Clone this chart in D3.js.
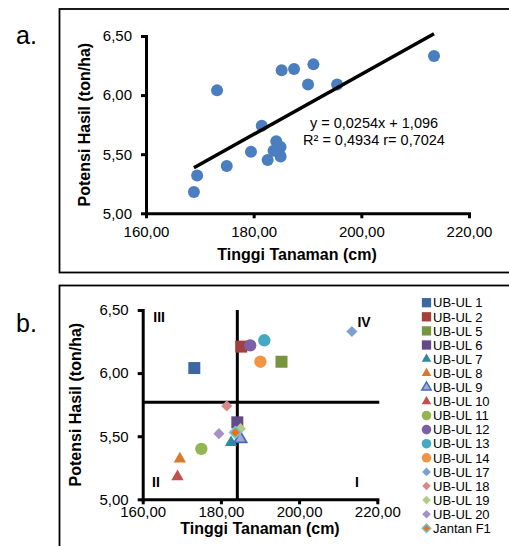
<!DOCTYPE html>
<html>
<head>
<meta charset="utf-8">
<script src="https://cdn.jsdelivr.net/npm/d3@7"></script>
<style>
  body { margin: 0; background: #fff; }
  svg { display: block; font-family: "Liberation Sans", Arial, sans-serif; }
  .axis path, .axis line { stroke: #000; stroke-width: 3; }
  .axis text { font-size: 15px; fill: #000; }
  .title { font-size: 16px; font-weight: bold; }
</style>
</head>
<body>
<div id="chart"></div>
<script>
// genotypes, plant height (cm) and yield potential (ton/ha)
var names = ["UB-UL 1", "UB-UL 2", "UB-UL 5", "UB-UL 6", "UB-UL 7", "UB-UL 8", "UB-UL 9",
  "UB-UL 10", "UB-UL 11", "UB-UL 12", "UB-UL 13", "UB-UL 14", "UB-UL 17", "UB-UL 18",
  "UB-UL 19", "UB-UL 20", "Jantan F1"];
var height = [173.2, 185.2, 195.5, 184.2, 182.6, 169.5, 185.0, 168.9, 175.0, 187.5,
  191.1, 190.1, 213.5, 181.5, 185.0, 179.5, 183.7];
var yieldHa = [6.04, 6.21, 6.09, 5.61, 5.45, 5.32, 5.48, 5.18, 5.40, 6.22,
  6.26, 6.09, 6.33, 5.74, 5.56, 5.52, 5.53];

var xTicks = [160, 180, 200, 220];
var yTicks = [5.00, 5.50, 6.00, 6.50];

// trendline y = 0,0254x + 1,096
var slope = 0.0254, intercept = 1.096;
var eqText = ["y = 0,0254x + 1,096", "R\u00b2 = 0,4934 r= 0,7024"];

// quadrant cut lines (means)
var meanX = 184.2, meanY = 5.77;
var quadLabels = [["III", 164.2, 6.405], ["IV", 216.6, 6.367], ["II", 163.4, 5.10], ["I", 214.8, 5.10]];

// marker style per genotype
var shapes = ["square", "square", "square", "square", "triangle", "triangle", "triangle",
  "triangle", "circle", "circle", "circle", "circle", "diamond", "diamond", "diamond",
  "diamond", "diamond"];
var fills = ["#3B68A1", "#A33F3C", "#77943F", "#634B88", "#2F8AA0", "#D8792D", "#A9A4D2",
  "#C0504D", "#93B653", "#7D5FA3", "#45A9C4", "#F39445", "#7D9FD1", "#D98A88",
  "#B3CD86", "#A690C6", "#E8730F"];
var strokes = [null, null, null, null, null, null, "#3D6FB8", null, null, null, null, null,
  null, null, null, null, "#6FC3E0"];

var locale = d3.formatLocale({decimal: ",", thousands: ".", grouping: [3], currency: ["", ""]});
var fmt = locale.format(".2f");

var svg = d3.select("#chart").append("svg")
  .attr("width", 509)
  .attr("height", 546);

var data = names.map(function(n, i) {
  return {name: n, x: height[i], y: yieldHa[i], shape: shapes[i], fill: fills[i], stroke: strokes[i]};
});

function symbolFor(shape, big) {
  var t = {square: d3.symbolSquare, triangle: d3.symbolTriangle, circle: d3.symbolCircle, diamond: d3.symbolSquare};
  var size = {square: 144, triangle: 66, circle: 120, diamond: 62};
  var k = big ? 1 : 0.6;
  return d3.symbol().type(t[shape]).size(size[shape] * k)();
}

// frames round each panel
svg.append("rect").attr("x", 59.5).attr("y", 9).attr("width", 470).attr("height", 263.5)
  .attr("fill", "none").attr("stroke", "#000").attr("stroke-width", 1.8);
svg.append("rect").attr("x", 59.5).attr("y", 285.5).attr("width", 470).attr("height", 300)
  .attr("fill", "none").attr("stroke", "#000").attr("stroke-width", 1.8);

svg.append("text").attr("x", 16).attr("y", 44).attr("font-size", 25).text("a.");
svg.append("text").attr("x", 16).attr("y", 332).attr("font-size", 25).text("b.");

function axes(g, x, y, h, titleX, titleY, yTitleX, xPad) {
  g.append("g").attr("class", "axis")
    .attr("transform", "translate(0," + h + ")")
    .call(d3.axisBottom(x).tickValues(xTicks).tickFormat(fmt).tickSize(5).tickSizeOuter(0).tickPadding(xPad))
    .call(function(a) { a.select(".domain").attr("stroke-linecap", "square"); });
  g.append("g").attr("class", "axis")
    .call(d3.axisLeft(y).tickValues(yTicks).tickFormat(fmt).tickSize(5).tickSizeOuter(0).tickPadding(9))
    .call(function(a) { a.select(".domain").attr("stroke-linecap", "square"); });
  g.append("text").attr("class", "title")
    .attr("x", titleX).attr("y", titleY)
    .attr("text-anchor", "middle")
    .text("Tinggi Tanaman (cm)");
  g.append("text").attr("class", "title")
    .attr("transform", "translate(" + yTitleX + "," + (h / 2) + ") rotate(-90)")
    .attr("text-anchor", "middle")
    .text("Potensi Hasil (ton/ha)");
}

// ---- panel a: scatter with trendline
var ga = svg.append("g").attr("transform", "translate(146,36)");
var wa = 323, ha = 177.3;
var xa = d3.scaleLinear().domain([160, 220]).range([0, wa]);
var ya = d3.scaleLinear().domain([5, 6.5]).range([ha, 0]);
axes(ga, xa, ya, ha, 151, 224, -56, 8);

ga.selectAll(".dot").data(data).enter().append("circle")
  .attr("cx", function(d) { return xa(d.x); })
  .attr("cy", function(d) { return ya(d.y); })
  .attr("r", 6)
  .attr("fill", "#4A7EBF");

var ext = d3.extent(height);
ga.append("line")
  .attr("x1", xa(ext[0])).attr("y1", ya(slope * ext[0] + intercept))
  .attr("x2", xa(ext[1])).attr("y2", ya(slope * ext[1] + intercept))
  .attr("stroke", "#000").attr("stroke-width", 3.5);

ga.selectAll(".eq").data(eqText).enter().append("text")
  .attr("x", 228).attr("y", function(d, i) { return 92 + i * 16.5; })
  .attr("text-anchor", "middle")
  .attr("font-size", 14.5)
  .text(function(d) { return d; });

// ---- panel b: quadrants by genotype
var gb = svg.append("g").attr("transform", "translate(142.7,310)");
var wb = 234.6, hb = 189.3;
var xb = d3.scaleLinear().domain([160, 220]).range([0, wb]);
var yb = d3.scaleLinear().domain([5, 6.5]).range([hb, 0]);
axes(gb, xb, yb, hb, wb / 2, 224, -62, 2);

gb.append("line").attr("x1", xb(meanX)).attr("x2", xb(meanX)).attr("y1", 0).attr("y2", hb)
  .attr("stroke", "#000").attr("stroke-width", 3);
gb.append("line").attr("x1", 0).attr("x2", wb + 2).attr("y1", yb(meanY)).attr("y2", yb(meanY))
  .attr("stroke", "#000").attr("stroke-width", 3);

gb.selectAll(".q").data(quadLabels).enter().append("text")
  .attr("x", function(d) { return xb(d[1]); })
  .attr("y", function(d) { return yb(d[2]); })
  .attr("text-anchor", "middle")
  .attr("font-size", 14).attr("font-weight", "bold")
  .text(function(d) { return d[0]; });

gb.selectAll(".mk").data(data).enter().append("path")
  .attr("d", function(d) { return symbolFor(d.shape, true); })
  .attr("transform", function(d) {
    return "translate(" + xb(d.x) + "," + yb(d.y) + ")" + (d.shape === "diamond" ? " rotate(45)" : "");
  })
  .attr("fill", function(d) { return d.fill; })
  .attr("stroke", function(d) { return d.stroke || "none"; })
  .attr("stroke-width", 1.8);

// legend
var lg = svg.append("g").attr("transform", "translate(426.5,302.7)");
var row = lg.selectAll(".row").data(data).enter().append("g")
  .attr("transform", function(d, i) { return "translate(0," + (i * 14.1) + ")"; });
row.append("path")
  .attr("d", function(d) { return symbolFor(d.shape, false); })
  .attr("transform", function(d) { return d.shape === "diamond" ? "rotate(45)" : null; })
  .attr("fill", function(d) { return d.fill; })
  .attr("stroke", function(d) { return d.stroke || "none"; })
  .attr("stroke-width", 1.4);
row.append("text")
  .attr("x", 6.5).attr("y", 4.7)
  .attr("font-size", 13)
  .text(function(d) { return d.name; });
</script>
</body>
</html>
